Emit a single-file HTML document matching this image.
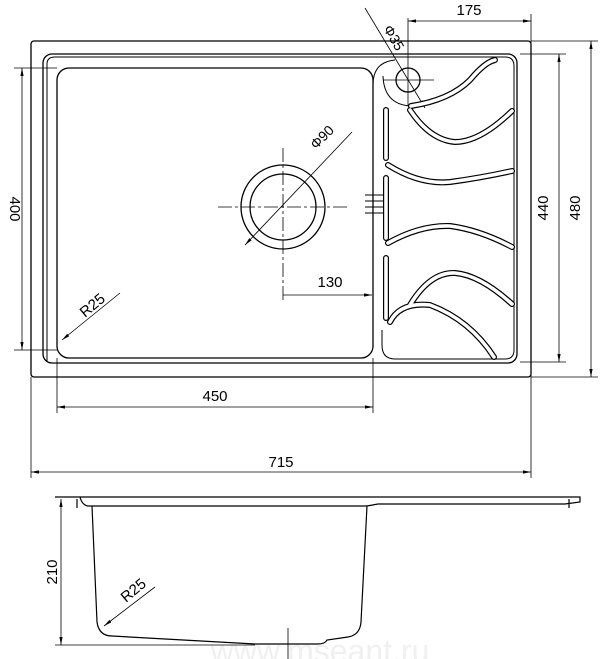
<!DOCTYPE html>
<html><head><style>html,body{margin:0;padding:0;background:#fff}svg{display:block}</style></head>
<body>
<svg width="601" height="659" viewBox="0 0 601 659" xmlns="http://www.w3.org/2000/svg" font-family="Liberation Sans, sans-serif" fill="none" stroke="#000">
<defs>
<marker id="a" viewBox="0 0 10 10" refX="10" refY="5" markerWidth="8" markerHeight="8" orient="auto-start-reverse" markerUnits="userSpaceOnUse"><path d="M0,3 L10,5 L0,7z" fill="#000" stroke="none"/></marker>
</defs>
<!-- top view outer -->
<rect x="31" y="41" width="500" height="336" rx="3" stroke-width="1.3"/>
<rect x="43" y="54" width="474" height="309" rx="9" stroke-width="1.3"/>
<path d="M47,362 V64 Q47,57 55,57 H505 Q514,57 514,66 V350 Q514,359 505,359 H395" stroke-width="1"/>
<!-- bowl -->
<rect x="57" y="68" width="316" height="290" rx="12" stroke-width="1.3"/>
<!-- drainboard boundary -->
<path d="M373,85 Q373,62 395,60" stroke-width="1"/>
<path d="M395,359 Q382,359 382,345 V330" stroke-width="1"/>
<!-- tap hole -->
<circle cx="408" cy="80" r="12" stroke-width="1.3"/>
<path d="M383,76 Q384,104 410,106" stroke-width="1"/>
<line x1="383" y1="80" x2="434" y2="80" stroke-width="0.8"/>
<line x1="408" y1="18" x2="408" y2="106" stroke-width="0.8"/>
<line x1="365" y1="8" x2="425" y2="108" stroke-width="0.8" marker-end="url(#a)"/>
<text x="388" y="28" font-size="14" stroke="none" fill="#000" transform="rotate(60 385 24)">Φ35</text>
<!-- drainboard ridges -->
<g stroke-width="6" stroke-linecap="round">
<path d="M411,106 Q450,100 470,80 Q485,62 495,60"/>
<path d="M410,110 Q430,140 455,142 Q480,142 512,111"/>
<path d="M388,165 Q420,185 450,182 Q480,178 512,171"/>
<path d="M388,243 Q420,225 450,226 Q480,230 512,247"/>
<path d="M410,305 Q430,272 455,273 Q480,275 512,304"/>
<path d="M390,322 Q400,302 430,305 Q470,320 494,357"/>
<path d="M386,110 V158"/><path d="M386,178 V238"/><path d="M386,258 V318"/>
</g>
<g stroke-width="3.6" stroke="#fff" stroke-linecap="round">
<path d="M411,106 Q450,100 470,80 Q485,62 495,60"/>
<path d="M410,110 Q430,140 455,142 Q480,142 512,111"/>
<path d="M388,165 Q420,185 450,182 Q480,178 512,171"/>
<path d="M388,243 Q420,225 450,226 Q480,230 512,247"/>
<path d="M410,305 Q430,272 455,273 Q480,275 512,304"/>
<path d="M390,322 Q400,302 430,305 Q470,320 494,357"/>
<path d="M386,110 V158"/><path d="M386,178 V238"/><path d="M386,258 V318"/>
</g>
<g stroke-width="1"><line x1="365" y1="195" x2="384" y2="195"/><line x1="365" y1="201" x2="384" y2="201"/><line x1="365" y1="207" x2="384" y2="207"/><line x1="365" y1="213" x2="384" y2="213"/></g>
<!-- drain -->
<circle cx="283" cy="207" r="42" stroke-width="1.3"/>
<circle cx="283" cy="207" r="33" stroke-width="1.3"/>
<g stroke-width="0.8" stroke-dasharray="14,3,3,3">
<line x1="218" y1="207" x2="350" y2="207"/>
<line x1="283" y1="148" x2="283" y2="300"/>
</g>
<line x1="352" y1="132" x2="245" y2="245" stroke-width="0.8" marker-end="url(#a)"/>
<text x="316" y="150" font-size="14" stroke="none" fill="#000" transform="rotate(-45 316 150)">Φ90</text>
<!-- dims -->
<g stroke-width="0.8">
<line x1="14" y1="68" x2="57" y2="68"/><line x1="14" y1="350" x2="57" y2="350"/>
<line x1="22" y1="68" x2="22" y2="350" marker-start="url(#a)" marker-end="url(#a)"/>
<line x1="520" y1="54" x2="566" y2="54"/><line x1="520" y1="362" x2="566" y2="362"/>
<line x1="559" y1="54" x2="559" y2="362" marker-start="url(#a)" marker-end="url(#a)"/>
<line x1="531" y1="41" x2="598" y2="41"/><line x1="531" y1="377" x2="598" y2="377"/>
<line x1="591" y1="41" x2="591" y2="377" marker-start="url(#a)" marker-end="url(#a)"/>
<line x1="31" y1="377" x2="31" y2="478"/><line x1="531" y1="14" x2="531" y2="478"/>
<line x1="31" y1="472" x2="531" y2="472" marker-start="url(#a)" marker-end="url(#a)"/>
<line x1="57" y1="358" x2="57" y2="413"/><line x1="373" y1="358" x2="373" y2="413"/>
<line x1="57" y1="407" x2="373" y2="407" marker-start="url(#a)" marker-end="url(#a)"/>
<line x1="408" y1="21" x2="531" y2="21" marker-start="url(#a)" marker-end="url(#a)"/>
<line x1="283" y1="295" x2="372" y2="295" marker-end="url(#a)"/>
<line x1="120" y1="293" x2="62" y2="340" marker-end="url(#a)"/>
</g>
<g font-size="15" stroke="none" fill="#000">
<text x="10" y="209" transform="rotate(90 10 209)" text-anchor="middle">400</text>
<text x="548" y="208" transform="rotate(-90 548 208)" text-anchor="middle">440</text>
<text x="580" y="208" transform="rotate(-90 580 208)" text-anchor="middle">480</text>
<text x="281" y="467" text-anchor="middle">715</text>
<text x="215" y="401" text-anchor="middle">450</text>
<text x="469" y="15" text-anchor="middle">175</text>
<text x="330" y="287" text-anchor="middle">130</text>
<text x="85" y="318" transform="rotate(-40 85 318)">R25</text>
</g>
<!-- side view -->
<text x="320" y="662" font-size="32" stroke="none" fill="#f0f0f0" text-anchor="middle">www.mseant.ru</text>
<g stroke-width="1.2">
<path d="M55,497 H580 V502 L565,504 H378 L367,506 H88 Q82,505 80,497"/>
<path d="M92,506 L97,622 Q99,636 112,636 L255,644 H318 Q325,644 327,640 L348,637 Q360,635 361,622 L367,506"/>
<line x1="77" y1="499" x2="77" y2="508"/><line x1="569" y1="499" x2="569" y2="508"/>
<line x1="288" y1="628" x2="288" y2="659" stroke-width="0.8"/>
</g>
<g stroke-width="0.8">
<line x1="55" y1="645" x2="255" y2="645"/>
<line x1="61" y1="499" x2="61" y2="645" marker-start="url(#a)" marker-end="url(#a)"/>
<line x1="155" y1="587" x2="104" y2="626" marker-end="url(#a)"/>
</g>
<text x="57" y="572" font-size="15" stroke="none" fill="#000" transform="rotate(-90 57 572)" text-anchor="middle">210</text>
<text x="126" y="603" font-size="15" stroke="none" fill="#000" transform="rotate(-40 126 603)">R25</text>
</svg>
</body></html>
